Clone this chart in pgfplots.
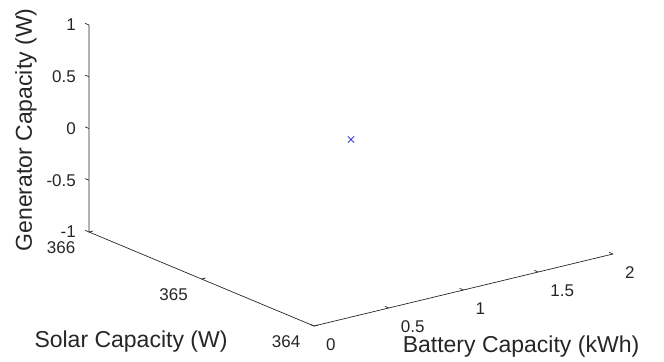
\documentclass[border=0pt]{standalone}
\usepackage{pgfplots}
\pgfplotsset{compat=1.18}
\usepackage{fontspec}
\setmainfont{Liberation Sans}
\definecolor{axc}{rgb}{0.15,0.15,0.15}
\definecolor{mk}{rgb}{0.25,0.25,0.85}
\begin{document}
\begin{tikzpicture}
\begin{axis}[
  x={(149.5pt,36pt)}, y={(-112.5pt,47pt)}, z={(0pt,103.5pt)},
  xmin=0, xmax=2, ymin=364, ymax=366, zmin=-1, zmax=1,
  hide axis, clip=false,
]
\addplot3[only marks, mark=x, mark size=4.5pt, color=mk, mark options={line width=0.8pt}] coordinates {(1,365,0)};
\coordinate (O) at (axis cs:0,364,-1);
\draw[axc, line width=0.7pt] (axis cs:0,366,1) -- (axis cs:0,366,-1) -- (axis cs:0,364,-1) -- (axis cs:2,364,-1);
\pgfplotsinvokeforeach{-1,-0.5,0,0.5,1}{
  \draw[axc, line width=0.7pt] (axis cs:0,366,#1) -- (axis cs:0,366.035,#1);
  \node[anchor=east, text=axc, inner sep=0pt, xshift=-13pt, font=\fontsize{17}{20}\selectfont] at (axis cs:0,366,#1) {#1};
}
\pgfplotsinvokeforeach{364,365,366}{
  \draw[axc, line width=0.7pt] (axis cs:0,#1,-1) -- (axis cs:0.027,#1,-1);
  \node[anchor=east, text=axc, inner sep=0pt, xshift=-13.5pt, yshift=-16pt, font=\fontsize{17}{20}\selectfont] at (axis cs:0,#1,-1) {#1};
}
\pgfplotsinvokeforeach{0,0.5,1,1.5,2}{
  \draw[axc, line width=0.7pt] (axis cs:#1,364,-1) -- (axis cs:#1,364.035,-1);
  \node[anchor=west, text=axc, inner sep=0pt, xshift=12pt, yshift=-18.5pt, font=\fontsize{17}{20}\selectfont] at (axis cs:#1,364,-1) {#1};
}
\end{axis}
\pgfresetboundingbox
\begin{scope}[shift={(O)}, xshift=-314pt, yshift=-35pt]
\path (0,0) rectangle (664pt,361pt);
\node[text=axc, font=\fontsize{23}{26}\selectfont] at (131pt,19pt) {Solar Capacity (W)};
\node[text=axc, font=\fontsize{23}{26}\selectfont] at (521pt,14pt) {Battery Capacity (kWh)};
\node[text=axc, rotate=90, font=\fontsize{23}{26}\selectfont] at (26pt,231pt) {Generator Capacity (W)};
\end{scope}
\end{tikzpicture}
\end{document}
